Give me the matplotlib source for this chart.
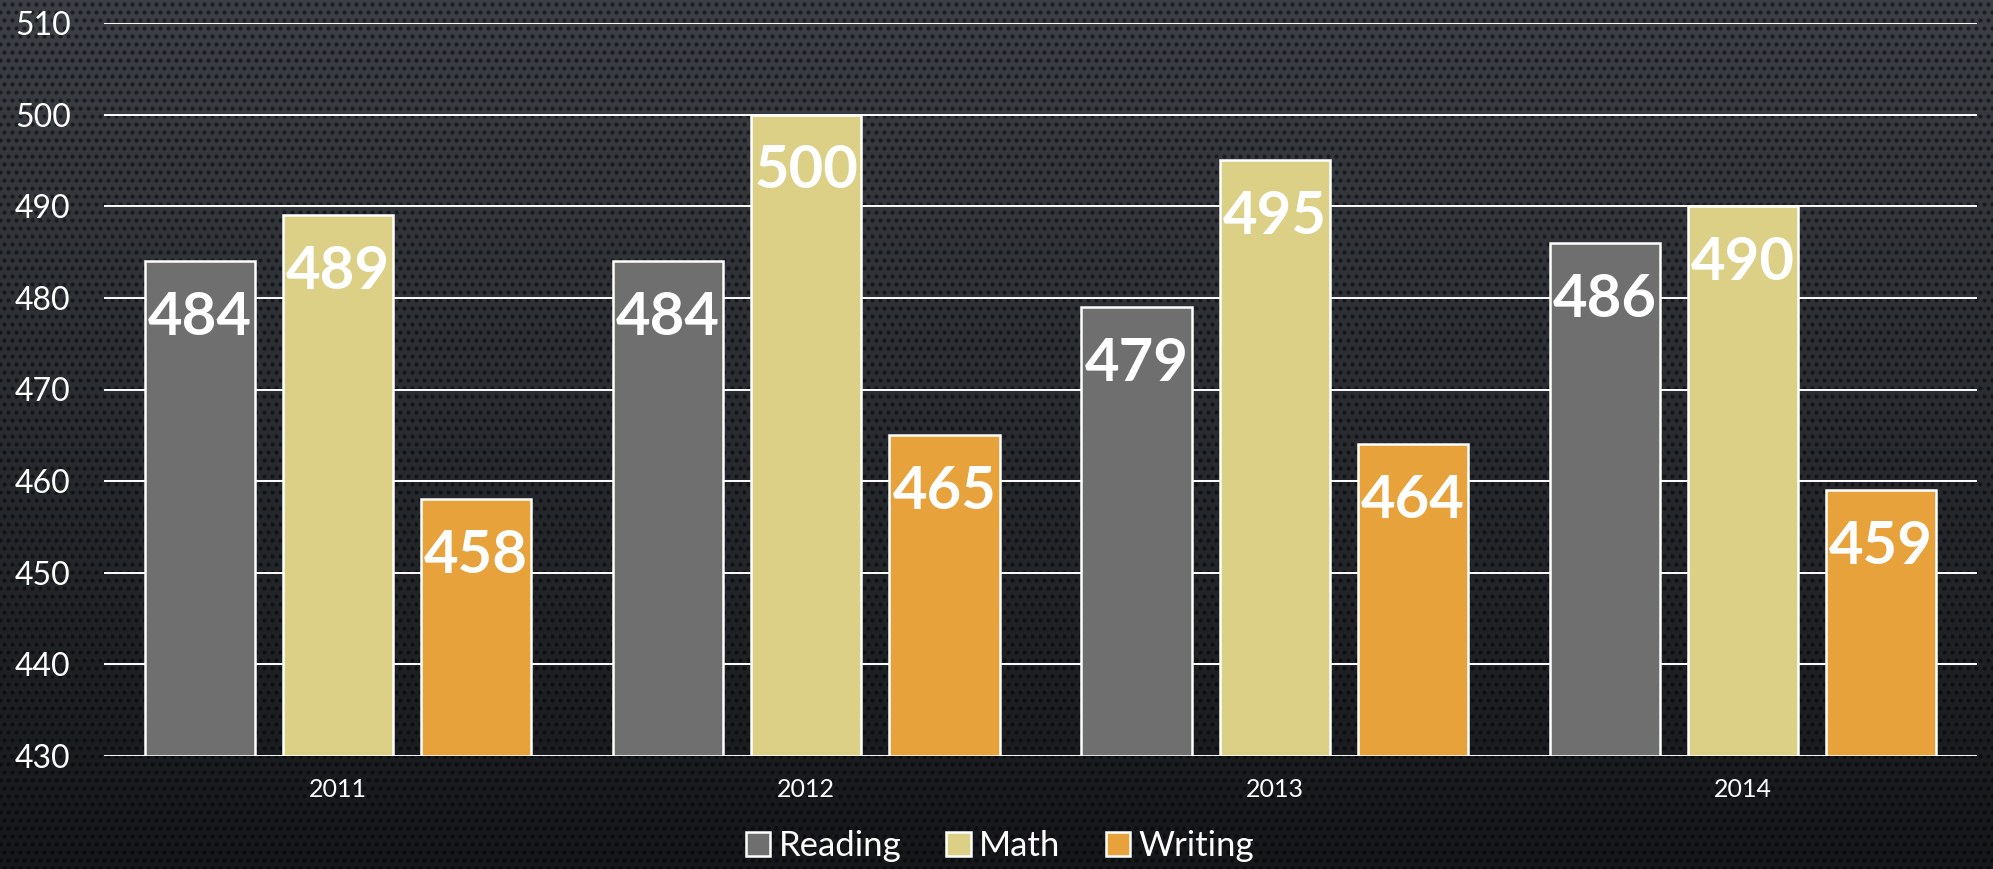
import numpy as np
import matplotlib
matplotlib.use("Agg")
from matplotlib import pyplot as plt
from matplotlib.patches import Patch

years = ["2011", "2012", "2013", "2014"]
reading = [484, 484, 479, 486]
math_scores = [489, 500, 495, 490]
writing = [458, 465, 464, 459]
series_names = ["Reading", "Math", "Writing"]
colors = ["#6f6f6f", "#dbd086", "#e8a23b"]
y_ticks = [430, 440, 450, 460, 470, 480, 490, 500, 510]

plt.rcParams['font.family'] = ['Lato', 'DejaVu Sans']

W, H = 1993, 869
fig = plt.figure(figsize=(W / 100, H / 100), dpi=100)

# dark perforated background
yy, xx = np.mgrid[0:H, 0:W]
top = np.array([0x3c, 0x3f, 0x45]) / 255
bot = np.array([0x15, 0x17, 0x1a]) / 255
t = (yy / (H - 1))[..., None]
bg = top * (1 - t) + bot * t
pitch = 8
row = yy // pitch
cx = (xx + (row % 2) * pitch / 2) % pitch - pitch / 2
cy = yy % pitch - pitch / 2
dot = np.clip(1.6 - np.sqrt(cx ** 2 + cy ** 2) / 1.8, 0, 1)[..., None]
bg = bg * (1 - 0.55 * dot)
bga = fig.add_axes([0, 0, 1, 1], zorder=-10)
bga.imshow(bg, aspect='auto', interpolation='nearest')
bga.axis('off')

ax = fig.add_axes([104 / W, 1 - 756 / H, (1977 - 104) / W, (756 - 23) / H])
ax.patch.set_alpha(0)

x = np.arange(len(years))
width = 0.235
step = 0.295
for i, (vals, name, c) in enumerate(zip([reading, math_scores, writing], series_names, colors)):
    pos = x + (i - 1) * step
    ax.bar(pos, [v - 430 for v in vals], width, bottom=430, color=c,
           edgecolor='white', linewidth=1.8, zorder=3, label=name)
    for p, v in zip(pos, vals):
        ax.annotate(str(v), (p, v), xytext=(0, -53), textcoords='offset points',
                    ha='center', va='baseline', color='white', fontsize=43,
                    fontweight='bold', zorder=4)

ax.set_ylim(430, 510)
ax.set_xlim(-0.5, 3.5)
ax.set_yticks(y_ticks)
ax.set_xticks(x)
ax.set_xticklabels(years)
ax.yaxis.grid(True, color='white', linewidth=1.4, zorder=1)
ax.tick_params(axis='y', length=0, labelsize=23, labelcolor='white', pad=24)
ax.tick_params(axis='x', length=0, labelsize=18, labelcolor='white', pad=16)
for s in ax.spines.values():
    s.set_visible(False)

handles = [Patch(facecolor=c, edgecolor='white', linewidth=1.8) for c in colors]
leg = fig.legend(handles, series_names, loc='center', bbox_to_anchor=(1000 / W, 1 - 846 / H),
                 ncol=3, frameon=False, fontsize=25, labelcolor='white',
                 handlelength=0.7, handleheight=0.7, handletextpad=0.25, columnspacing=1.3)

fig.savefig("out.png", dpi=100)
